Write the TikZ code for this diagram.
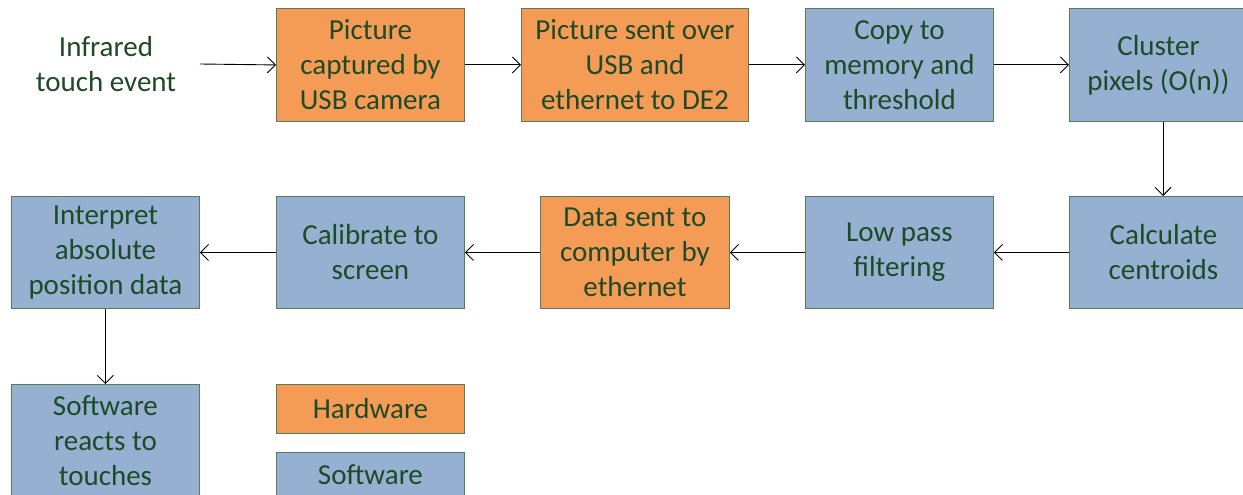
\documentclass[tikz,border=0pt]{standalone}
\usepackage{fontspec}
\setmainfont{Carlito}
\usetikzlibrary{arrows.meta}
\definecolor{hw}{HTML}{F49B55}
\definecolor{sw}{HTML}{95B0D0}
\definecolor{edge}{HTML}{5A7A5A}
\definecolor{txt}{HTML}{1E4A28}
\tikzset{
  box/.style={draw=edge, line width=0.9pt, anchor=north west, inner sep=0pt, align=center,
    text=txt, font=\fontsize{29}{35}\selectfont},
  hwbox/.style={box, fill=hw},
  swbox/.style={box, fill=sw},
  conn/.style={line width=0.9pt, -{Straight Barb[length=8pt,width=16pt,line width=0.9pt]}},
}
\begin{document}
\begin{tikzpicture}[x=1pt,y=-1pt]
\useasboundingbox (0,0) rectangle (1243,495);
% row 1
\node[text=txt, align=center, font=\fontsize{29}{35}\selectfont] (ir) at (106,64) {Infrared\\touch event};
\node[hwbox, minimum width=188pt, minimum height=113pt] (b1) at (276,8) {Picture\\captured by\\USB camera};
\node[hwbox, minimum width=227pt, minimum height=113pt] (b2) at (521,8) {Picture sent over\\USB and\\ethernet to DE2};
\node[swbox, minimum width=188pt, minimum height=113pt] (b3) at (805,8) {Copy to\\memory and\\threshold};
\node[swbox, minimum width=178pt, minimum height=113pt] (b4) at (1069,8) {Cluster\\pixels (O(n))};
% row 2
\node[swbox, minimum width=188pt, minimum height=112pt] (c5) at (1069,196) {Calculate\\centroids};
\node[swbox, minimum width=188pt, minimum height=112pt] (c4) at (805,196) {Low pass\\filtering};
\node[hwbox, minimum width=189pt, minimum height=112pt] (c3) at (540,196) {Data sent to\\computer by\\ethernet};
\node[swbox, minimum width=188pt, minimum height=112pt] (c2) at (276,196) {Calibrate to\\screen};
\node[swbox, minimum width=188pt, minimum height=112pt] (c1) at (11,196) {Interpret\\absolute\\position data};
% row 3
\node[swbox, minimum width=188pt, minimum height=112pt] (d1) at (11,384) {Software\\reacts to\\touches};
\node[hwbox, minimum width=188pt, minimum height=49pt] (lh) at (276,384) {Hardware};
\node[swbox, minimum width=188pt, minimum height=44pt] (ls) at (276,452) {Software};
% connectors
\coordinate (irs) at (200,64);
\draw[conn] (irs) -- (b1.west);
\draw[conn] (b1.east) -- (b2.west);
\draw[conn] (b2.east) -- (b3.west);
\draw[conn] (b3.east) -- (b4.west);
\draw[conn] (b4.south -| 1163,0) -- (c5.north -| 1163,0);
\draw[conn] (c5.west) -- (c4.east);
\draw[conn] (c4.west) -- (c3.east);
\draw[conn] (c3.west) -- (c2.east);
\draw[conn] (c2.west) -- (c1.east);
\draw[conn] (c1.south) -- (d1.north);
\end{tikzpicture}
\end{document}
